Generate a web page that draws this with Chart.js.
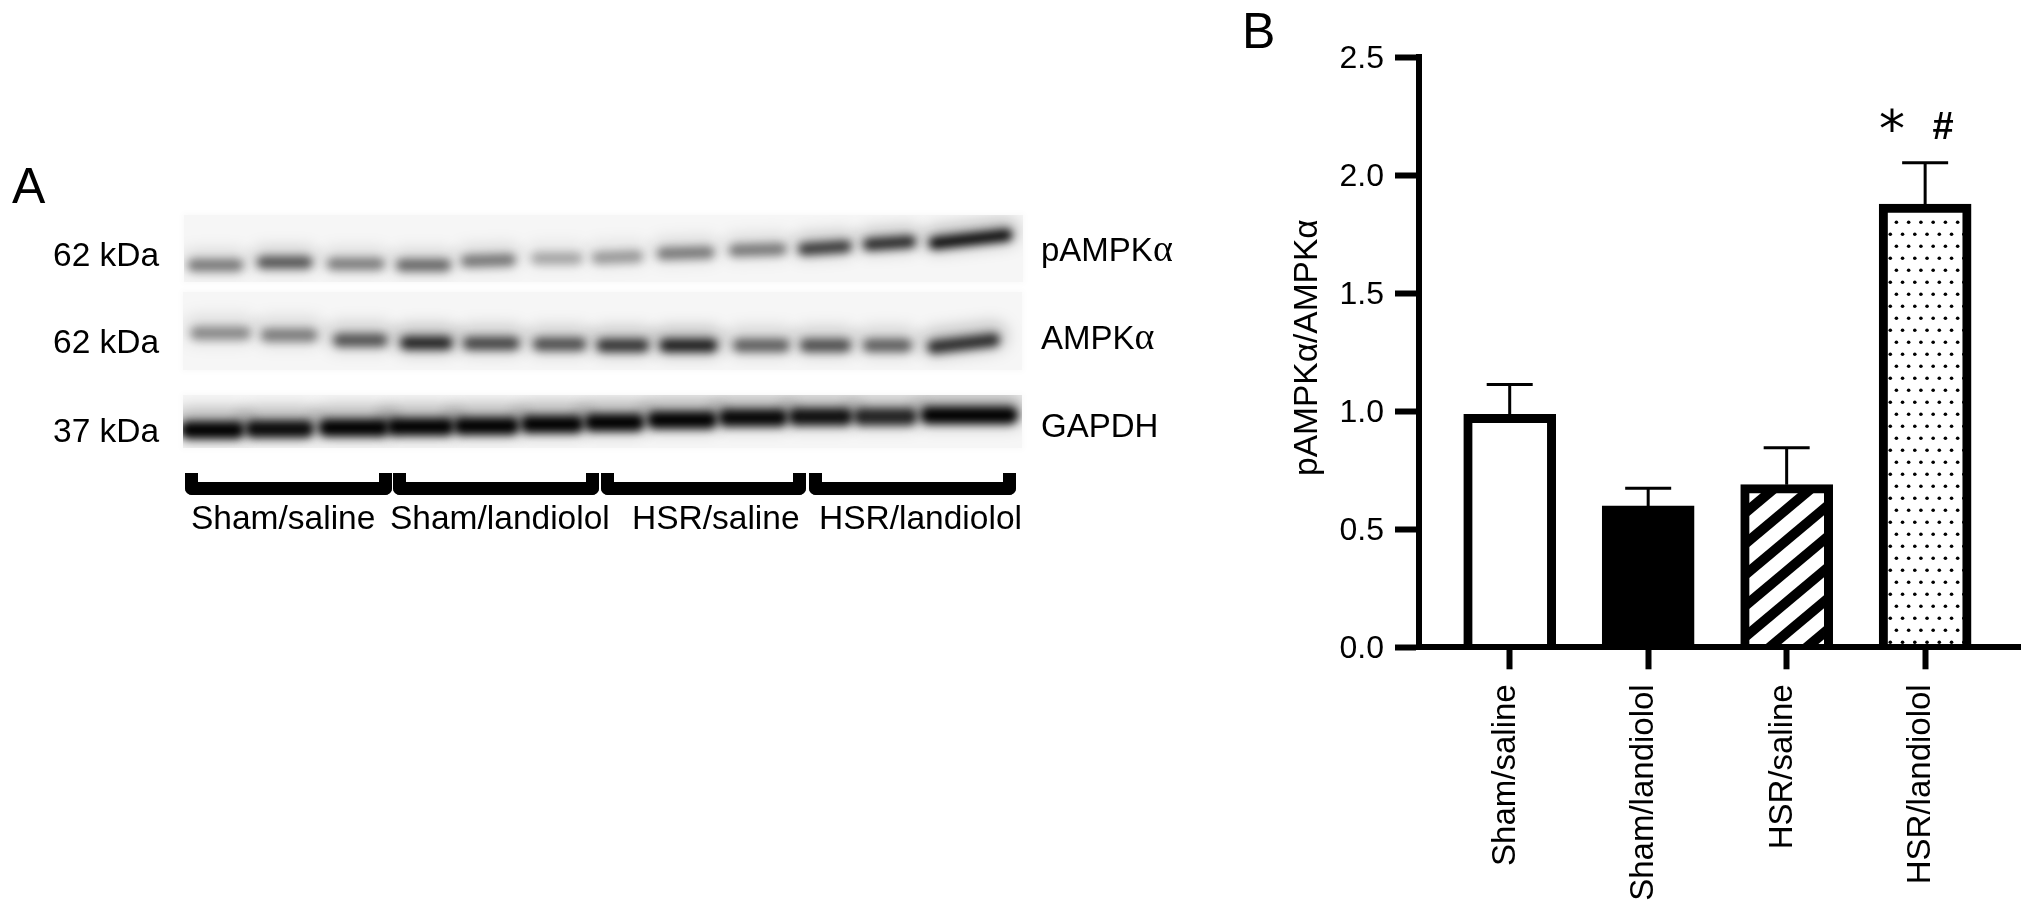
<!DOCTYPE html>
<html>
<head>
<meta charset="utf-8">
<style>
  html, body { margin: 0; padding: 0; background: #fff; }
  #page { position: relative; width: 2032px; height: 914px; overflow: hidden; }
  canvas { position: absolute; display: block; }
  .strip { background: #f6f6f6; box-shadow: 0 0 6px 2px #fafafa; }
  .txt { position: absolute; white-space: nowrap; font-family: "Liberation Sans", Arial, sans-serif; color: #000; line-height: 1; }
  .txt i { font-family: "Liberation Serif", serif; font-style: normal; font-size: 1.15em; line-height: 0; }
  .bracket { position: absolute; top: 473px; height: 22px; box-sizing: border-box; border: solid #000; border-width: 0 13px 13px 13px; border-radius: 0 0 7px 7px; }
</style>
<script src="https://cdn.jsdelivr.net/npm/chart.js@4"></script>
</head>
<body>
<div id="page">
  <canvas id="chartB" width="2032" height="914" style="left:0;top:0"></canvas>
  <canvas id="stripP" class="strip" width="839" height="67" style="left:184px;top:215px"></canvas>
  <canvas id="stripA" class="strip" width="839" height="78" style="left:183px;top:292px"></canvas>
  <canvas id="stripG" class="strip" width="839" height="53" style="left:183px;top:395px"></canvas>
</div>
<script>
// panel B
const categories = ['Sham/saline', 'Sham/landiolol', 'HSR/saline', 'HSR/landiolol'];
const ratioValues = [0.987, 0.599, 0.689, 1.878];
const ratioUpper = [1.114, 0.674, 0.846, 2.053];
const yTicks = [0, 0.5, 1, 1.5, 2, 2.5];
const yTitle = '\u00a0pAMPK\u03b1/AMPK\u03b1';

// panel A, x in lanes (0-12), y as a fraction of the strip height
const pStart = [0.07, 1.06, 2.06, 3.05, 3.98, 4.98, 5.85, 6.78, 7.81, 8.80, 9.73, 10.67];
const pEnd = [0.83, 1.82, 2.85, 3.80, 4.73, 5.68, 6.55, 7.57, 8.60, 9.53, 10.45, 11.83];
const pY = [0.75, 0.71, 0.73, 0.75, 0.68, 0.65, 0.63, 0.57, 0.52, 0.49, 0.42, 0.36];
const pTilt = [0, 0, 0, 0, 0.01, 0, 0.01, 0.01, 0.01, 0.02, 0.02, 0.06];
const pInk = [0.45, 0.60, 0.43, 0.52, 0.46, 0.28, 0.33, 0.45, 0.45, 0.72, 0.80, 0.95];

const aStart = [0.13, 1.14, 2.17, 3.13, 4.03, 5.03, 5.94, 6.84, 7.89, 8.85, 9.75, 10.67];
const aEnd = [0.94, 1.90, 2.90, 3.83, 4.79, 5.74, 6.64, 7.62, 8.65, 9.53, 10.40, 11.66];
const aY = [0.53, 0.555, 0.62, 0.655, 0.66, 0.67, 0.685, 0.685, 0.685, 0.685, 0.685, 0.66];
const aTilt = [0, 0, 0, 0, 0, 0, 0, 0, 0, 0, 0, 0.045];
const aInk = [0.38, 0.43, 0.60, 0.82, 0.66, 0.62, 0.74, 0.85, 0.55, 0.62, 0.55, 0.78];

const gStart = [0.01, 0.94, 1.99, 2.96, 3.92, 4.88, 5.79, 6.69, 7.71, 8.71, 9.64, 10.60];
const gEnd = [0.83, 1.82, 2.90, 3.83, 4.76, 5.68, 6.55, 7.59, 8.60, 9.53, 10.45, 11.89];
const gY = [0.66, 0.64, 0.62, 0.60, 0.585, 0.55, 0.52, 0.47, 0.43, 0.41, 0.41, 0.38];
const gTilt = [0, 0, 0, 0, 0, 0, 0, 0, 0, 0, 0, 0];
const gInk = [1, 0.95, 1, 1, 1, 1, 1, 1, 0.97, 0.92, 0.82, 1];

function stripePattern() {
  const tile = document.createElement('canvas');
  tile.width = 37;
  tile.height = 31;
  const ctx = tile.getContext('2d');
  ctx.fillStyle = '#fff';
  ctx.fillRect(0, 0, 37, 31);
  ctx.strokeStyle = '#000';
  ctx.lineWidth = 10;
  // run past the tile edges so the butt ends do not show at the seams
  for (const shift of [-62, -31, 0, 31, 62, 93]) {
    ctx.beginPath();
    ctx.moveTo(-74, 84 + shift);
    ctx.lineTo(111, -71 + shift);
    ctx.stroke();
  }
  return ctx.createPattern(tile, 'repeat');
}

function dotPattern() {
  const tile = document.createElement('canvas');
  tile.width = 49;
  tile.height = 24;
  const ctx = tile.getContext('2d');
  ctx.fillStyle = '#fff';
  ctx.fillRect(0, 0, 49, 24);
  ctx.fillStyle = '#000';
  for (let k = 0; k < 4; k++) {
    ctx.beginPath();
    ctx.arc(3.8 + k * 12.25, 18.3, 1.8, 0, Math.PI * 2);
    ctx.fill();
    ctx.beginPath();
    ctx.arc(9.9 + k * 12.25, 6.3, 1.8, 0, Math.PI * 2);
    ctx.fill();
  }
  return ctx.createPattern(tile, 'repeat');
}

const errorBars = {
  id: 'errorBars',
  afterDatasetsDraw(chart) {
    const { ctx, scales: { x, y } } = chart;
    ctx.save();
    ctx.strokeStyle = '#000';
    ctx.lineWidth = 3;
    ratioUpper.forEach((upper, i) => {
      const cx = x.getPixelForValue(i);
      const top = y.getPixelForValue(upper);
      ctx.beginPath();
      ctx.moveTo(cx, y.getPixelForValue(ratioValues[i]));
      ctx.lineTo(cx, top);
      ctx.moveTo(cx - 23, top);
      ctx.lineTo(cx + 23, top);
      ctx.stroke();
    });
    ctx.restore();
  }
};

const significance = {
  id: 'significance',
  afterDatasetsDraw(chart) {
    const { ctx, scales: { x, y } } = chart;
    ctx.save();
    ctx.fillStyle = '#000';
    ctx.textAlign = 'center';
    ctx.textBaseline = 'alphabetic';
    ctx.font = '52px "DejaVu Sans"';
    ctx.fillText('*', x.getPixelForValue(2.76), y.getPixelForValue(2.12));
    ctx.font = 'bold 38px "Liberation Sans"';
    ctx.fillText('#', x.getPixelForValue(3.13), y.getPixelForValue(2.155));
    ctx.restore();
  }
};

new Chart(document.getElementById('chartB'), {
  type: 'bar',
  data: {
    datasets: [{
      data: ratioValues.map((value, i) => ({ x: i, y: value })),
      backgroundColor: ['#fff', '#000', stripePattern(), dotPattern()],
      borderColor: '#000',
      borderWidth: 9,
      borderSkipped: 'bottom',
      barThickness: 92
    }]
  },
  options: {
    responsive: false,
    animation: false,
    layout: { padding: { top: 57.3, right: 12, left: 0, bottom: 0 } },
    plugins: { legend: { display: false }, tooltip: { enabled: false } },
    scales: {
      x: {
        type: 'linear',
        min: -0.655,
        max: 3.685,
        offset: false,
        afterBuildTicks(scale) {
          scale.ticks = categories.map((name, i) => ({ value: i }));
        },
        afterFit(scale) {
          scale.height = 266.7;
        },
        grid: { offset: false, drawOnChartArea: false, tickLength: 22, tickWidth: 6, tickColor: '#000' },
        border: { display: true, color: '#000', width: 6, z: 1 },
        ticks: {
          autoSkip: false,
          minRotation: 90,
          maxRotation: 90,
          padding: 15,
          labelOffset: -4,
          color: '#000',
          font: { family: '"Liberation Sans"', size: 33 },
          callback(value) {
            return categories[value];
          }
        }
      },
      y: {
        min: 0,
        max: 2.5,
        afterBuildTicks(scale) {
          scale.ticks = yTicks.map((value) => ({ value }));
        },
        afterFit(scale) {
          scale.width = 1419;
        },
        grid: { drawOnChartArea: false, tickLength: 24, tickWidth: 6, tickColor: '#000' },
        border: { display: true, color: '#000', width: 6, z: 1 },
        ticks: {
          padding: 11,
          labelOffset: 2,
          color: '#000',
          font: { family: '"Liberation Sans"', size: 32 },
          callback(value) {
            return value.toFixed(1);
          }
        },
        title: {
          display: true,
          text: yTitle,
          color: '#000',
          font: { family: '"Liberation Sans"', size: 33.5 },
          padding: { top: 1288, bottom: 0 }
        }
      }
    }
  },
  plugins: [errorBars, significance]
});

// blur each band dataset by its own amount
const bandBlur = {
  id: 'bandBlur',
  beforeDatasetDraw(chart, args) {
    chart.ctx.save();
    chart.ctx.filter = `blur(${chart.data.datasets[args.index].blur}px)`;
  },
  afterDatasetDraw(chart) {
    chart.ctx.restore();
  }
};

function drawStrip(id, starts, ends, ys, tilts, inks, core, halo, lift) {
  const datasets = [];
  starts.forEach((start, i) => {
    const points = [
      { x: start + 0.07, y: ys[i] + tilts[i] },
      { x: ends[i] - 0.07, y: ys[i] - tilts[i] }
    ];
    datasets.push({
      data: points.map((p) => ({ x: p.x, y: p.y - lift })),
      borderColor: `rgba(0,0,0,${(inks[i] * 0.28).toFixed(3)})`,
      borderWidth: halo,
      borderCapStyle: 'round',
      blur: 8,
      clip: 0
    });
    datasets.push({
      data: points,
      borderColor: `rgba(0,0,0,${inks[i]})`,
      borderWidth: core,
      borderCapStyle: 'round',
      blur: 4.5,
      clip: 0
    });
  });
  new Chart(document.getElementById(id), {
    type: 'line',
    data: { datasets },
    options: {
      responsive: false,
      animation: false,
      elements: { point: { radius: 0 } },
      plugins: { legend: { display: false }, tooltip: { enabled: false } },
      scales: {
        x: { type: 'linear', min: 0, max: 12, display: false },
        y: { min: 0, max: 1, reverse: true, display: false }
      }
    },
    plugins: [bandBlur]
  });
}

drawStrip('stripP', pStart, pEnd, pY, pTilt, pInk, 12, 24, 0.05);
drawStrip('stripA', aStart, aEnd, aY, aTilt, aInk, 13, 28, 0.05);
drawStrip('stripG', gStart, gEnd, gY, gTilt, gInk, 17, 32, 0.10);

// panel A labels: text, left, baseline, size
const labels = [
  ['A', 12, 203, 50],
  ['B', 1242, 48, 50],
  ['62 kDa', 53, 266, 33.5],
  ['62 kDa', 53, 353, 33.5],
  ['37 kDa', 53, 442, 33.5],
  ['pAMPK<i>\u03b1</i>', 1041, 261, 33],
  ['AMPK<i>\u03b1</i>', 1041, 349, 33],
  ['GAPDH', 1041, 437, 33],
  ['Sham/saline', 191, 529, 33.5],
  ['Sham/landiolol', 390, 529, 33.5],
  ['HSR/saline', 632, 529, 33.5],
  ['HSR/landiolol', 819, 529, 33.5]
];
const page = document.getElementById('page');
labels.forEach(([text, left, baseline, size]) => {
  const el = document.createElement('div');
  el.className = 'txt';
  el.innerHTML = text;
  el.style.left = left + 'px';
  el.style.top = (baseline - 0.8465 * size) + 'px';
  el.style.fontSize = size + 'px';
  page.appendChild(el);
});

const bracketLeft = [184.5, 392.5, 601, 809];
const bracketRight = [392, 599, 806, 1015.5];
bracketLeft.forEach((left, i) => {
  const el = document.createElement('div');
  el.className = 'bracket';
  el.style.left = left + 'px';
  el.style.width = (bracketRight[i] - left) + 'px';
  page.appendChild(el);
});
</script>
</body>
</html>
